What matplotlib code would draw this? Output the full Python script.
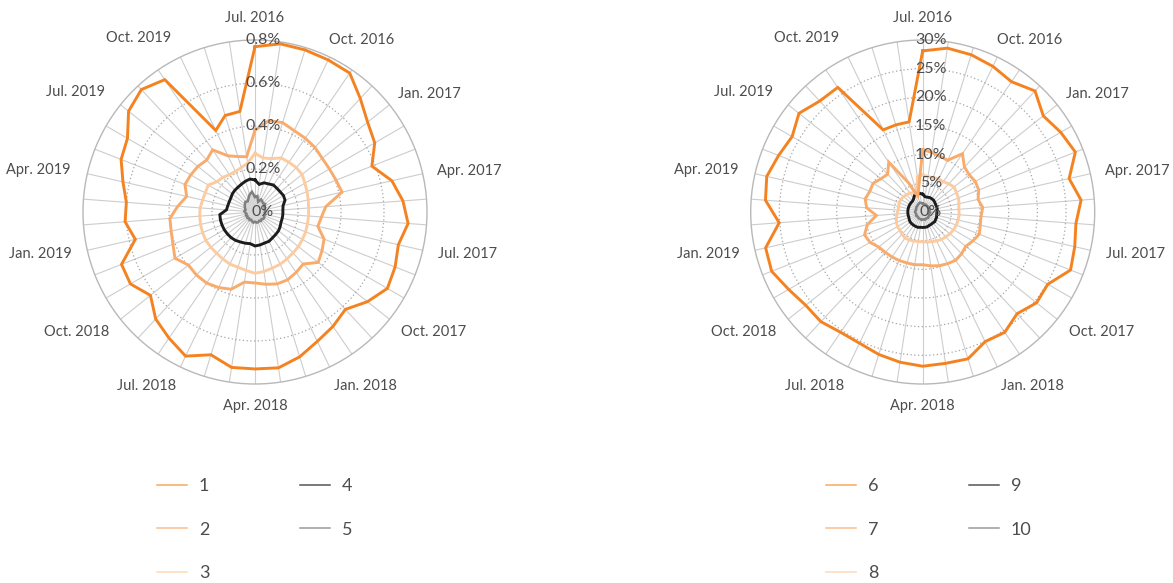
import numpy as np
import matplotlib
matplotlib.use("Agg")
import matplotlib.pyplot as plt
from matplotlib.transforms import ScaledTranslation
from matplotlib.lines import Line2D

plt.rcParams['font.family'] = ['Lato', 'DejaVu Sans']

# ---------------- data ----------------
# 42 monthly observations, Jul. 2016 .. Dec. 2019 (clockwise from top)
tick_labels = ["Jul. 2016", "Oct. 2016", "Jan. 2017", "Apr. 2017", "Jul. 2017",
               "Oct. 2017", "Jan. 2018", "Apr. 2018", "Jul. 2018", "Oct. 2018",
               "Jan. 2019", "Apr. 2019", "Jul. 2019", "Oct. 2019"]
tick_every = 3

# left chart (values in %)
series1 = [0.769, 0.791, 0.789, 0.785, 0.782, 0.72, 0.67, 0.643, 0.584, 0.653, 0.69, 0.714,
           0.684, 0.70, 0.711, 0.669, 0.618, 0.644, 0.668, 0.705, 0.733, 0.73, 0.731, 0.695,
           0.744, 0.71, 0.679, 0.622, 0.669, 0.667, 0.571, 0.606, 0.600, 0.63, 0.669, 0.685,
           0.752, 0.777, 0.745, 0.421, 0.47, 0.473]
series2 = [0.38, 0.43, 0.435, 0.42, 0.415, 0.41, 0.40, 0.40, 0.405, 0.415, 0.33, 0.31,
           0.30, 0.345, 0.36, 0.376, 0.33, 0.34, 0.35, 0.35, 0.34, 0.33, 0.33, 0.376,
           0.39, 0.40, 0.40, 0.396, 0.43, 0.41, 0.40, 0.397, 0.36, 0.326, 0.35, 0.345,
           0.34, 0.33, 0.35, 0.29, 0.27, 0.26]
series3 = [0.273, 0.254, 0.26, 0.279, 0.28, 0.282, 0.28, 0.268, 0.26, 0.254, 0.25, 0.25,
           0.25, 0.253, 0.255, 0.258, 0.26, 0.264, 0.27, 0.273, 0.28, 0.285, 0.275, 0.269,
           0.269, 0.265, 0.262, 0.263, 0.264, 0.262, 0.26, 0.258, 0.256, 0.25, 0.248, 0.251,
           0.226, 0.22, 0.21, 0.21, 0.216, 0.23]
series4 = [0.149, 0.13, 0.142, 0.145, 0.152, 0.150, 0.150, 0.153, 0.150, 0.134, 0.130, 0.130,
           0.130, 0.130, 0.135, 0.140, 0.142, 0.145, 0.151, 0.151, 0.155, 0.158, 0.149, 0.152,
           0.155, 0.160, 0.163, 0.164, 0.165, 0.165, 0.165, 0.164, 0.133, 0.130, 0.129, 0.130,
           0.135, 0.138, 0.140, 0.144, 0.150, 0.155]
series5 = [0.07, 0.075, 0.05, 0.065, 0.06, 0.055, 0.06, 0.05, 0.05, 0.045, 0.05, 0.045,
           0.05, 0.045, 0.05, 0.05, 0.045, 0.05, 0.045, 0.05, 0.05, 0.045, 0.05, 0.045,
           0.04, 0.045, 0.04, 0.045, 0.04, 0.045, 0.04, 0.045, 0.05, 0.045, 0.05, 0.055,
           0.06, 0.065, 0.06, 0.07, 0.085, 0.095]

# right chart (values in %)
series6 = [28.1, 28.9, 28.7, 28.2, 27.5, 28.8, 26.9, 27.8, 28.6, 26.2, 27.7, 26.8,
           27.2, 27.7, 25.2, 25.4, 24.2, 25.4, 25.1, 26.8, 26.7, 26.9, 26.5, 26.0,
           25.4, 25.4, 26.1, 26.1, 27.0, 28.3, 28.1, 25.1, 27.5, 27.9, 27.0, 26.3,
           27.6, 26.4, 26.3, 15.9, 15.9, 15.9]
series7 = [10.9, 10.5, 10.2, 10.0, 12.3, 10.7, 10.4, 10.6, 10.5, 9.9, 10.5, 10.2,
           10.3, 10.6, 10.1, 9.6, 9.95, 10.2, 10.0, 9.8, 9.5, 9.2, 9.3, 9.3,
           9.4, 9.5, 9.6, 9.8, 10.6, 10.9, 9.9, 8.1, 9.8, 10.3, 9.9, 10.0,
           9.3, 9.0, 10.5, 5.6, 2.9, 4.5]
series8 = [6.5, 6.2, 6.3, 6.4, 6.4, 6.7, 7.0, 6.8, 6.7, 6.5, 6.3, 6.4,
           6.3, 6.3, 6.2, 6.1, 5.9, 5.8, 5.6, 5.4, 5.3, 5.2, 5.2, 5.3,
           5.4, 5.5, 5.3, 5.1, 5.1, 4.9, 4.7, 4.5, 4.3, 4.3, 4.4, 4.4,
           4.3, 4.1, 4.0, 3.7, 3.4, 6.2]
series9 = [3.1, 2.7, 2.7, 2.8, 2.8, 2.8, 2.7, 2.6, 2.6, 2.6, 2.5, 2.5,
           2.5, 2.6, 2.6, 2.7, 2.6, 2.6, 2.6, 2.7, 2.7, 2.7, 2.7, 2.8,
           2.8, 2.8, 2.8, 2.8, 2.7, 2.6, 2.6, 2.6, 2.6, 2.6, 2.6, 2.6,
           2.6, 2.6, 2.8, 3.3, 3.2, 3.3]
series10 = [1.5, 1.4, 1.3, 1.4, 1.3, 1.3, 1.2, 1.3, 1.3, 1.2, 1.2, 1.3,
            1.2, 1.2, 1.3, 1.3, 1.4, 1.3, 1.3, 1.4, 1.3, 1.3, 1.4, 1.3,
            1.3, 1.3, 1.2, 1.2, 1.3, 1.2, 1.2, 1.3, 1.3, 1.3, 1.2, 1.3,
            1.4, 1.4, 1.5, 1.6, 1.7, 1.6]

left_names = ["1", "2", "3", "4", "5"]
right_names = ["6", "7", "8", "9", "10"]
left_rticks = [0, 0.2, 0.4, 0.6, 0.8]
left_rlabels = ["0%", "0.2%", "0.4%", "0.6%", "0.8%"]
right_rticks = [0, 5, 10, 15, 20, 25, 30]
right_rlabels = ["0%", "5%", "10%", "15%", "20%", "25%", "30%"]

# ---------------- style ----------------
colors = ["#F58220", "#F9AB6C", "#FCCB9F", "#1C1C1C", "#7F7F7F"]
legend_colors = ["#F9A860", "#FBBE8C", "#FDD9B8", "#555555", "#9A9A9A"]
widths = [2.1, 2.1, 2.1, 2.1, 1.8]
text_color = "#4D4D4D"
W, H = 1173, 583
fig = plt.figure(figsize=(W / 100, H / 100), dpi=100)

R_PX = 172.0


def make_chart(cx, cy, data, names, rticks, rlabels, legend_xy):
    n = len(data[0])
    theta = np.arange(n) * 2 * np.pi / n
    rect = [(cx - R_PX) / W, (H - cy - R_PX) / H, 2 * R_PX / W, 2 * R_PX / H]
    ax = fig.add_axes(rect, projection='polar')
    ax.set_theta_zero_location('N')
    ax.set_theta_direction(-1)
    rmax = rticks[-1]
    ax.set_ylim(0, rmax)
    ax.set_xticks(theta)
    ax.set_xticklabels([])
    ax.tick_params(axis='x', length=0)
    ax.xaxis.grid(True, color='#CDCDCD', lw=0.8, ls='-')
    ax.set_yticks(rticks[1:-1])
    ax.set_yticklabels([])
    ax.yaxis.grid(True, color='#A5A5A5', lw=0.9, ls=(0, (1, 2)))
    ax.spines['polar'].set_color('#B8B8B8')
    ax.spines['polar'].set_linewidth(1.0)

    tc = np.append(theta, theta[0])
    for k, (vals, c, lw, nm) in enumerate(zip(data, colors, widths, names)):
        v = np.append(vals, vals[0])
        if k == 4:
            ax.fill(tc, v, color='#D6D6D6', zorder=3, lw=0)
        ax.plot(tc, v, color=c, lw=lw, zorder=4 + (4 - k) * 0.1, label=nm,
                solid_joinstyle='miter')

    # radial labels along the top spoke
    off = ScaledTranslation(8 / 100, 0, fig.dpi_scale_trans)
    for r, lab in zip(rticks, rlabels):
        ax.text(0, r, lab, transform=ax.transData + off, ha='center', va='center',
                fontsize=11.5, color=text_color, zorder=10, clip_on=False)

    # month labels every 3 months
    for k, lab in enumerate(tick_labels):
        ang = theta[k * tick_every]
        s, c = np.sin(ang), np.cos(ang)
        d = 16 + 6 * abs(c)
        dx = d * s
        dy = d * c
        if s > 0.05 and c > 0:
            dx -= 11 * abs(c)
            dy -= 3 * abs(c)
        elif s > 0.05:
            dx -= 6 * abs(c)
        elif s < -0.05 and c < 0:
            dx += 6 * abs(c)
        tr = ax.transData + ScaledTranslation(dx / 100, dy / 100, fig.dpi_scale_trans)
        ha = 'left' if s > 0.05 else ('right' if s < -0.05 else 'center')
        ax.text(ang, rmax, lab, transform=tr, ha=ha, va='center', fontsize=10.5,
                color=text_color, clip_on=False)

    leg_handles = [Line2D([], [], color=c, lw=1.1) for c in legend_colors]
    fig.legend(leg_handles, names, loc='upper left',
               bbox_to_anchor=(legend_xy[0] / W, 1 - legend_xy[1] / H),
               ncol=2, frameon=False, fontsize=13, labelcolor=text_color,
               handlelength=1.67, handletextpad=0.65, columnspacing=5.0,
               labelspacing=1.53, borderpad=0, borderaxespad=0)
    return ax


make_chart(255, 212, [series1, series2, series3, series4, series5], left_names,
           left_rticks, left_rlabels, (157, 478))
make_chart(922.7, 212, [series6, series7, series8, series9, series10], right_names,
           right_rticks, right_rlabels, (826, 478))

fig.savefig("out.png", dpi=100, facecolor='white')
